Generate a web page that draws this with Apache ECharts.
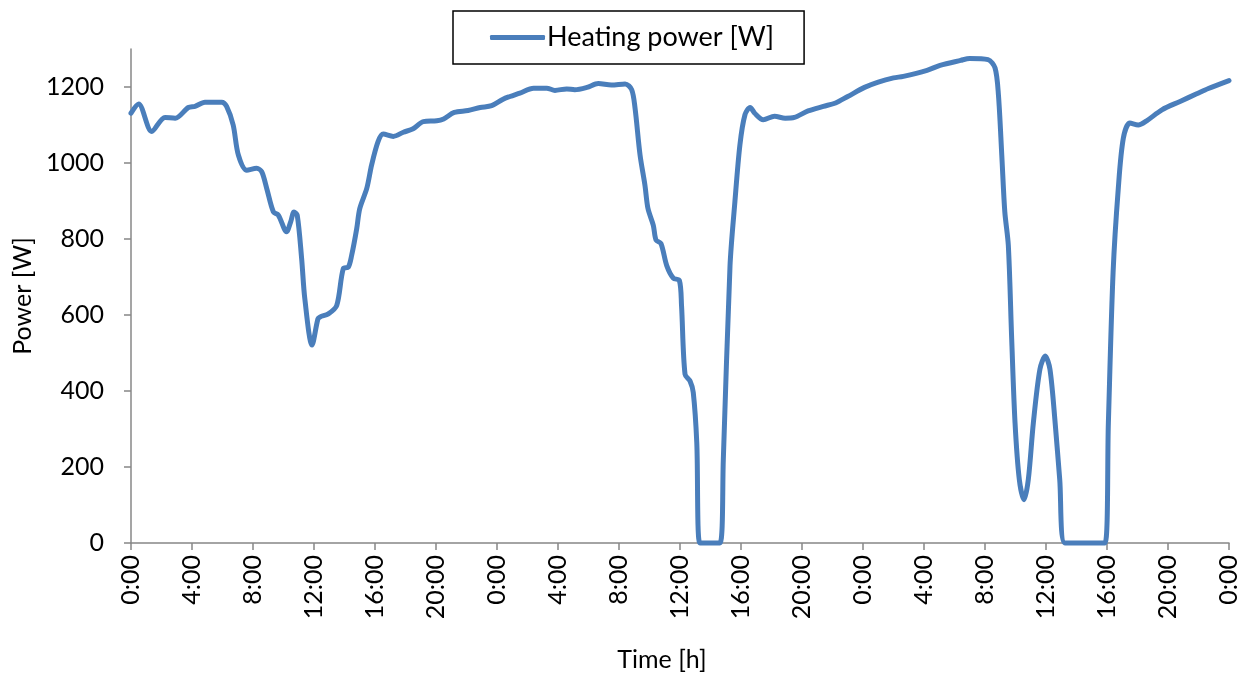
<!DOCTYPE html>
<html>
<head>
<meta charset="utf-8">
<title>Heating power</title>
<script src="https://cdn.jsdelivr.net/npm/echarts@6/dist/echarts.min.js"></script>
<style>
  html, body { margin: 0; padding: 0; background: #ffffff; }
  #chart { width: 1249px; height: 675px; }
</style>
</head>
<body>
<div id="chart"></div>
<script>
// Elapsed time in hours over three days (0 = first midnight)
const hours = [
  0, 0.5, 1.36, 2.23, 2.9, 3.76, 4.2, 4.85, 5.95, 6.27, 6.7, 7.04, 7.59, 8.24, 8.57, 8.9,
  9.34, 9.66, 10.2, 10.47, 10.69, 10.9, 11.19, 11.4, 11.87, 12.26, 12.4, 12.94, 13.49, 13.92,
  14.25, 14.47, 14.8, 15.0, 15.46, 15.78, 16.2, 16.54, 17.2, 17.86, 18.5, 19.17, 20.05, 20.5,
  21.2, 22.1, 22.9, 23.65, 24.4, 24.85, 25.5, 26.4, 27.26, 27.8, 28.57, 29.1, 29.9, 30.64,
  31.5, 32.4, 32.83, 33.05, 33.38, 33.7, 33.9, 34.25, 34.43, 34.75, 35.13, 35.56, 35.96, 36.1,
  36.33, 36.66, 36.87, 37.1, 37.3, 38.62, 38.84, 39.28, 39.6, 39.93, 40.26, 40.6, 40.9, 41.46,
  42.2, 42.9, 43.5, 44.4, 45.4, 46.2, 47.0, 48.1, 49.0, 50.0, 50.65, 52.2, 53.05, 54.4, 55.0,
  56.2, 56.66, 56.88, 57.1, 57.3, 57.53, 57.75, 57.97, 58.25, 58.56, 58.84, 59.17, 59.6, 59.95,
  60.26, 60.6, 60.9, 61.25, 63.87, 64.09, 64.4, 64.74, 65.07, 65.5, 66.05, 66.6, 67.6, 68.79,
  69.88, 70.65, 72
];

// Heating power in W at each time above
const heatingPower = [
  1131, 1155, 1083, 1120, 1118, 1146, 1149, 1160, 1160, 1149, 1100, 1021, 981, 986, 977, 933,
  871, 863, 819, 845, 871, 863, 748, 642, 521, 590, 595, 603, 625, 722,
  726, 757, 827, 880, 933, 995, 1056, 1076, 1070, 1081, 1090, 1109, 1111, 1116,
  1133, 1138, 1146, 1151, 1168, 1175, 1184, 1197, 1197, 1191, 1195, 1193, 1199, 1209,
  1205, 1208, 1193, 1145, 1021, 942, 880, 836, 797, 788, 730, 697, 691, 625,
  444, 426, 396, 264, 0, 0, 219, 730, 898, 1048, 1127, 1146, 1131, 1114,
  1123, 1118, 1120, 1137, 1149, 1158, 1175, 1199, 1213, 1224, 1228, 1244, 1257, 1270, 1275,
  1272, 1250, 1180, 1021, 871, 783, 537, 316, 167, 114, 167, 316, 457, 492,
  457, 316, 167, 0, 0, 316, 713, 933, 1065, 1105, 1100, 1111, 1140, 1162,
  1182, 1196, 1217
];

// Labelled values on the power axis
const powerTicks = [0, 200, 400, 600, 800, 1000, 1200];

const seriesName = 'Heating power [W]';
const lineColor = '#4a7ebb';
const axisGrey = '#878787';
const fontFamily = 'Lato, "Open Sans", sans-serif';

const points = hours.map((h, i) => [h, heatingPower[i]]);

const chart = echarts.init(document.getElementById('chart'), null, { renderer: 'canvas' });

chart.setOption({
  animation: false,
  backgroundColor: '#ffffff',
  textStyle: { fontFamily: fontFamily, color: '#000000' },
  grid: { left: 131, right: 20, top: 49, bottom: 132, containLabel: false, outerBoundsMode: 'none' },
  legend: {
    left: 453,
    top: 11,
    padding: [13, 30, 13, 37],
    borderColor: '#000000',
    borderWidth: 1.5,
    itemWidth: 55,
    itemHeight: 5,
    itemGap: 0,
    textStyle: { fontFamily: fontFamily, fontSize: 27, color: '#000000', padding: [0, 0, 0, -3] },
    data: [{
      name: seriesName,
      icon: 'roundRect',
      itemStyle: { color: lineColor }
    }]
  },
  xAxis: {
    type: 'value',
    min: 0,
    max: 72,
    interval: 4,
    name: 'Time [h]',
    nameLocation: 'middle',
    nameGap: 104,
    nameTextStyle: { fontFamily: fontFamily, fontSize: 25, color: '#000000', padding: [0, 36, 0, 0] },
    axisLine: { show: true, lineStyle: { color: axisGrey, width: 1.5 } },
    axisTick: { show: true, length: 7, inside: false, lineStyle: { color: axisGrey, width: 1.5 } },
    splitLine: { show: false },
    axisLabel: {
      rotate: 90,
      margin: 12,
      fontFamily: fontFamily,
      fontSize: 25,
      color: '#000000',
      showMinLabel: true,
      showMaxLabel: true,
      formatter: v => (Math.round(v) % 24) + ':00'
    }
  },
  yAxis: {
    type: 'value',
    min: 0,
    max: 1300,
    interval: 100,
    name: 'Power [W]',
    nameLocation: 'middle',
    nameRotate: 90,
    nameGap: 93,
    nameTextStyle: { fontFamily: fontFamily, fontSize: 25, color: '#000000' },
    axisLine: { show: true, lineStyle: { color: axisGrey, width: 1.5 } },
    axisTick: { show: true, length: 7, customValues: powerTicks, lineStyle: { color: axisGrey, width: 1.5 } },
    splitLine: { show: false },
    axisLabel: {
      margin: 27,
      fontFamily: fontFamily,
      fontSize: 25,
      color: '#000000',
      customValues: powerTicks,
      formatter: v => String(v)
    }
  },
  series: [{
    name: seriesName,
    type: 'line',
    data: points,
    smooth: 0.3,
    symbol: 'none',
    showSymbol: false,
    clip: false,
    lineStyle: { color: lineColor, width: 5, cap: 'round', join: 'round' },
    itemStyle: { color: lineColor }
  }]
});
</script>
</body>
</html>
